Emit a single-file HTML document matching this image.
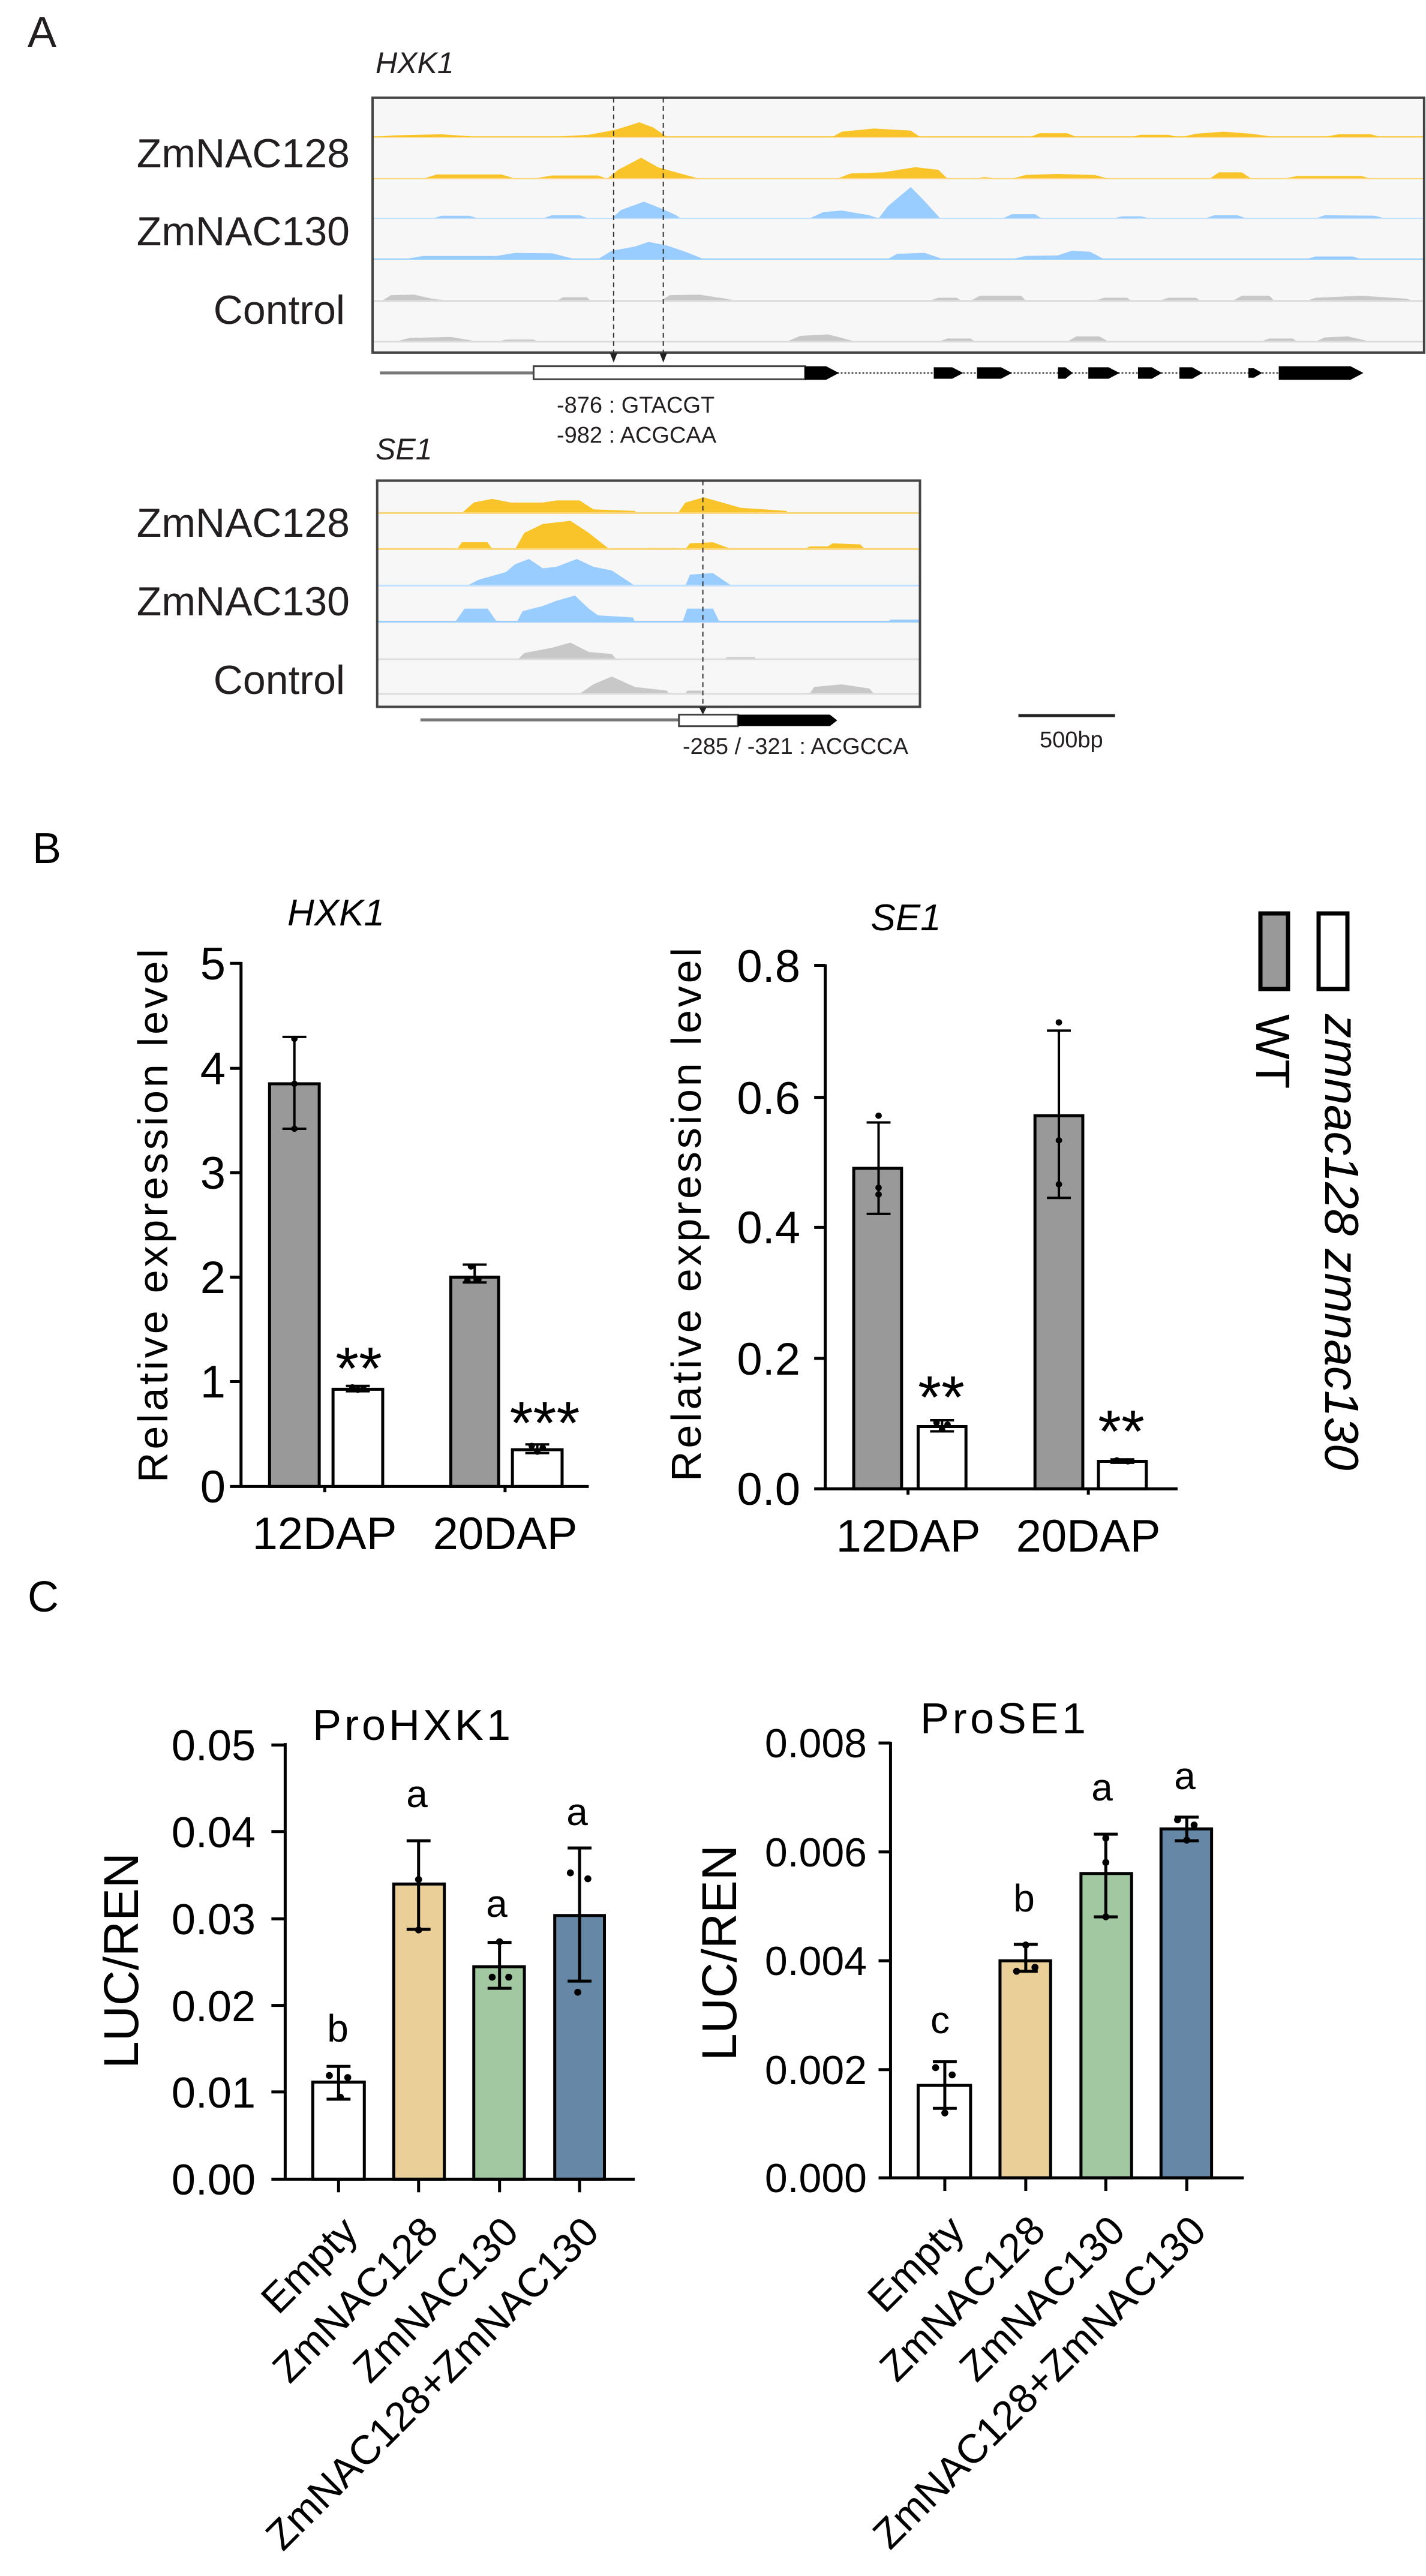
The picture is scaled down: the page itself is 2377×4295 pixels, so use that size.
<!DOCTYPE html>
<html><head><meta charset="utf-8"><style>
html,body{margin:0;padding:0;background:#fff;}
svg{display:block;font-family:"Liberation Sans",Arial,sans-serif;}
.ns{vector-effect:non-scaling-stroke;}
</style></head><body>
<svg width="2377" height="4295" viewBox="0 0 2377 4295" xmlns="http://www.w3.org/2000/svg">
<rect width="2377" height="4295" fill="#fff"/>

<!-- ================= PANEL A ================= -->
<g transform="scale(1.5335,0.871)">
  <!-- HXK1 box -->
  <rect x="405" y="187" width="1143" height="488" fill="#f7f7f7"/>
  <g fill="#F8C42A">
    <path d="M405 262 L430 259 L480 257 L520 262 Z M600 262 L640 258 L670 248 L695 234 L710 244 L725 262 Z M905 262 L915 252 L950 246 L990 250 L1000 262 Z M1120 262 L1130 255 L1160 255 L1170 262 Z M1230 262 L1240 258 L1270 258 L1280 262 Z M1285 262 L1300 256 L1330 252 L1360 256 L1385 262 Z M1440 262 L1455 257 L1490 257 L1500 262 Z"/>
    <path d="M460 342 L475 334 L545 334 L560 342 Z M580 342 L600 336 L650 336 L660 342 Z M660 342 L672 325 L697 302 L715 320 L735 330 L760 342 Z M910 342 L925 332 L960 330 L995 320 L1020 325 L1030 342 Z M1060 342 L1070 339 L1085 342 Z M1100 342 L1115 335 L1150 333 L1190 335 L1205 342 Z M1315 342 L1325 330 L1350 330 L1360 342 Z M1395 342 L1410 337 L1480 337 L1490 342 Z"/>
  </g>
  <g fill="#99CCFF">
    <path d="M470 418 L480 413 L510 413 L520 418 Z M590 418 L600 412 L630 412 L640 418 Z M665 418 L675 402 L700 386 L720 400 L735 412 L740 418 Z M880 418 L895 406 L915 403 L945 412 L955 418 Z M955 418 L965 395 L990 358 L1005 385 L1022 418 Z M1090 418 L1100 410 L1125 410 L1132 418 Z M1210 418 L1220 414 L1240 414 L1250 418 Z M1310 418 L1320 412 L1345 412 L1355 418 Z M1430 418 L1440 412 L1495 413 L1505 418 Z"/>
    <path d="M440 496 L460 490 L540 490 L560 484 L600 485 L625 496 Z M650 496 L665 480 L690 472 L705 463 L725 470 L745 482 L765 496 Z M965 496 L975 486 L1005 484 L1025 496 Z M1100 496 L1115 490 L1150 489 L1165 480 L1185 482 L1200 496 Z M1420 496 L1430 491 L1470 491 L1480 496 Z"/>
  </g>
  <g fill="#C8C8C8">
    <path d="M415 576 L425 565 L450 564 L470 572 L490 576 Z M605 576 L612 569 L638 569 L642 576 Z M718 576 L728 565 L760 564 L790 572 L800 576 Z M1010 576 L1020 570 L1040 570 L1045 576 Z M1055 576 L1065 566 L1110 566 L1115 576 Z M1190 576 L1200 570 L1225 570 L1230 576 Z M1260 576 L1270 570 L1300 570 L1305 576 Z M1340 576 L1350 566 L1380 566 L1385 576 Z M1420 576 L1430 570 L1480 566 L1530 572 L1535 576 Z"/>
    <path d="M430 654 L445 647 L490 645 L520 654 Z M540 654 L550 650 L580 650 L585 654 Z M855 654 L870 643 L900 640 L930 654 Z M1020 654 L1030 648 L1055 648 L1060 654 Z M1160 654 L1170 644 L1195 644 L1205 654 Z M1370 654 L1380 648 L1405 648 L1410 654 Z M1430 654 L1440 646 L1465 644 L1490 654 Z"/>
  </g>
  <g class="ns" stroke-width="2">
    <line class="ns" x1="405" y1="262" x2="1548" y2="262" stroke="#F8C42A" stroke-width="2"/>
    <line class="ns" x1="405" y1="342" x2="1548" y2="342" stroke="#FAD67A" stroke-width="2"/>
    <line class="ns" x1="405" y1="418" x2="1548" y2="418" stroke="#C2E0FF" stroke-width="2"/>
    <line class="ns" x1="405" y1="496" x2="1548" y2="496" stroke="#99CCFF" stroke-width="2"/>
    <line class="ns" x1="405" y1="576" x2="1548" y2="576" stroke="#dcdcdc" stroke-width="3"/>
    <line class="ns" x1="405" y1="654" x2="1548" y2="654" stroke="#dcdcdc" stroke-width="3"/>
  </g>
  <rect class="ns" x="405" y="187" width="1143" height="488" fill="none" stroke="#444" stroke-width="4"/>
  <line class="ns" x1="667" y1="187" x2="667" y2="680" stroke="#333" stroke-width="2" stroke-dasharray="8,6"/>
  <line class="ns" x1="721" y1="187" x2="721" y2="680" stroke="#333" stroke-width="2" stroke-dasharray="8,6"/>
  <path d="M663 676 L671 676 L667 694 Z M717 676 L725 676 L721 694 Z" fill="#222"/>
  <!-- gene model HXK1 -->
  <line class="ns" x1="413" y1="714" x2="580" y2="714" stroke="#777" stroke-width="5"/>
  <rect class="ns" x="580" y="701" width="295" height="25" fill="#fff" stroke="#444" stroke-width="3"/>
  <line class="ns" x1="910" y1="714" x2="1390" y2="714" stroke="#555" stroke-width="3" stroke-dasharray="3,3"/>
  <g fill="#000">
    <path d="M875 701 L898 701 L912 714 L898 727 L875 727 Z"/>
    <path d="M1015 703 L1035 703 L1047 714 L1035 725 L1015 725 Z"/>
    <path d="M1062 703 L1088 703 L1100 714 L1088 725 L1062 725 Z"/>
    <path d="M1150 703 L1158 703 L1166 714 L1158 725 L1150 725 Z"/>
    <path d="M1183 703 L1205 703 L1217 714 L1205 725 L1183 725 Z"/>
    <path d="M1237 703 L1252 703 L1263 714 L1252 725 L1237 725 Z"/>
    <path d="M1282 703 L1296 703 L1307 714 L1296 725 L1282 725 Z"/>
    <path d="M1357 705 L1363 705 L1372 714 L1363 723 L1357 723 Z"/>
    <path d="M1390 701 L1468 701 L1482 714 L1468 727 L1390 727 Z"/>
  </g>

  <!-- SE1 box -->
  <rect x="410" y="920" width="590" height="433" fill="#f7f7f7"/>
  <g fill="#F8C42A">
    <path d="M502 982 L515 962 L535 955 L555 962 L590 962 L605 958 L630 958 L645 975 L690 978 L692 982 Z M737 982 L745 962 L765 952 L785 962 L805 972 L855 978 L856 982 Z"/>
    <path d="M497 1051 L502 1038 L530 1038 L535 1051 Z M560 1051 L570 1020 L590 1003 L620 997 L640 1020 L660 1048 L662 1051 Z M700 1051 L705 1049 L740 1049 Z M745 1051 L750 1040 L775 1038 L795 1051 Z M875 1051 L880 1046 L900 1046 L905 1040 L935 1042 L940 1051 Z"/>
  </g>
  <g fill="#99CCFF">
    <path d="M508 1121 L520 1110 L550 1095 L560 1080 L575 1070 L590 1088 L605 1085 L627 1070 L645 1085 L665 1092 L690 1121 Z M745 1121 L750 1100 L775 1097 L795 1121 Z"/>
    <path d="M495 1190 L505 1165 L530 1165 L540 1190 Z M562 1190 L568 1170 L590 1160 L605 1150 L625 1140 L640 1165 L650 1178 L688 1182 L690 1190 Z M742 1190 L747 1165 L775 1165 L782 1190 Z M965 1190 L968 1186 L1000 1186 L1000 1190 Z"/>
  </g>
  <g fill="#C8C8C8">
    <path d="M563 1262 L570 1250 L600 1240 L620 1230 L640 1248 L665 1252 L670 1262 Z M788 1262 L790 1258 L820 1258 L822 1262 Z"/>
    <path d="M630 1328 L645 1310 L665 1295 L690 1315 L725 1322 L727 1328 Z M745 1328 L747 1322 L762 1322 L764 1328 Z M880 1328 L885 1315 L915 1310 L945 1318 L950 1328 Z"/>
  </g>
  <line class="ns" x1="410" y1="982" x2="1000" y2="982" stroke="#FAD67A" stroke-width="3"/>
  <line class="ns" x1="410" y1="1051" x2="1000" y2="1051" stroke="#FAD67A" stroke-width="3"/>
  <line class="ns" x1="410" y1="1121" x2="1000" y2="1121" stroke="#C2E0FF" stroke-width="3"/>
  <line class="ns" x1="410" y1="1190" x2="1000" y2="1190" stroke="#99CCFF" stroke-width="3"/>
  <line class="ns" x1="410" y1="1262" x2="1000" y2="1262" stroke="#dcdcdc" stroke-width="3"/>
  <line class="ns" x1="410" y1="1328" x2="1000" y2="1328" stroke="#dcdcdc" stroke-width="3"/>
  <rect class="ns" x="410" y="920" width="590" height="433" fill="none" stroke="#444" stroke-width="4"/>
  <line class="ns" x1="764" y1="920" x2="764" y2="1358" stroke="#333" stroke-width="2" stroke-dasharray="8,6"/>
  <path d="M760 1354 L768 1354 L764 1368 Z" fill="#222"/>
  <line class="ns" x1="457" y1="1378" x2="738" y2="1378" stroke="#777" stroke-width="5"/>
  <rect class="ns" x="738" y="1368" width="64" height="22" fill="#fff" stroke="#444" stroke-width="3"/>
  <path d="M802 1368 L902 1368 L910 1379 L902 1390 L802 1390 Z" fill="#000"/>
  <line class="ns" x1="1107" y1="1370" x2="1212" y2="1370" stroke="#222" stroke-width="5"/>
</g>
<g fill="#231f20">
  <text x="46" y="78" font-size="72">A</text>
  <text x="626" y="122" font-size="50" font-style="italic">HXK1</text>
  <text x="583" y="279" font-size="68" text-anchor="end">ZmNAC128</text>
  <text x="583" y="409" font-size="68" text-anchor="end">ZmNAC130</text>
  <text x="575" y="540" font-size="68" text-anchor="end">Control</text>
  <text x="928" y="688" font-size="38">-876 : GTACGT</text>
  <text x="928" y="738" font-size="38">-982 : ACGCAA</text>
  <text x="626" y="766" font-size="50" font-style="italic">SE1</text>
  <text x="583" y="895" font-size="68" text-anchor="end">ZmNAC128</text>
  <text x="583" y="1026" font-size="68" text-anchor="end">ZmNAC130</text>
  <text x="575" y="1157" font-size="68" text-anchor="end">Control</text>
  <text x="1138" y="1257" font-size="38">-285 / -321 : ACGCCA</text>
  <text x="1733" y="1246" font-size="38">500bp</text>
</g>

<!-- ================= PANEL B ================= -->
<g transform="translate(0,1350) scale(1.5335,0.806)">
  <g stroke="#000" class="ns">
    <rect class="ns" x="293" y="567" width="54" height="833" fill="#999" stroke="#000" stroke-width="5"/>
    <rect class="ns" x="362" y="1199" width="54" height="201" fill="#fff" stroke="#000" stroke-width="5"/>
    <rect class="ns" x="490" y="967" width="52" height="433" fill="#999" stroke="#000" stroke-width="5"/>
    <rect class="ns" x="557" y="1324" width="54" height="76" fill="#fff" stroke="#000" stroke-width="5"/>
    <rect class="ns" x="928" y="742" width="52" height="663" fill="#999" stroke="#000" stroke-width="5"/>
    <rect class="ns" x="998" y="1276" width="52" height="129" fill="#fff" stroke="#000" stroke-width="5"/>
    <rect class="ns" x="1125" y="633" width="52" height="772" fill="#999" stroke="#000" stroke-width="5"/>
    <rect class="ns" x="1194" y="1348" width="52" height="57" fill="#fff" stroke="#000" stroke-width="5"/>
  </g>
  <g stroke="#000" fill="none">
    <path class="ns" stroke-width="5" d="M262 315 L262 1400 M250 1400 L640 1400 M353 1400 L353 1412 M549 1400 L549 1412 M250 318 L262 318 M250 535 L262 535 M250 751 L262 751 M250 967 L262 967 M250 1183 L262 1183"/>
    <path class="ns" stroke-width="5" d="M897 320 L897 1405 M885 1405 L1280 1405 M987 1405 L987 1417 M1183 1405 L1183 1417 M885 322 L897 322 M885 595 L897 595 M885 864 L897 864 M885 1135 L897 1135"/>
    <path class="ns" stroke-width="4" d="M320 470 L320 660 M307 470 L333 470 M307 660 L333 660 M516 941 L516 978 M503 941 L529 941 M503 978 L529 978 M389 1192 L389 1203 M376 1192 L402 1192 M376 1203 L402 1203 M584 1313 L584 1331 M571 1313 L597 1313 M571 1331 L597 1331"/>
    <path class="ns" stroke-width="4" d="M955 647 L955 836 M942 647 L968 647 M942 836 L968 836 M1151 457 L1151 803 M1138 457 L1164 457 M1138 803 L1164 803 M1024 1263 L1024 1286 M1011 1263 L1037 1263 M1011 1286 L1037 1286 M1220 1344 L1220 1351 M1207 1344 L1233 1344 M1207 1351 L1233 1351"/>
  </g>
  <g fill="#000">
    <ellipse cx="320" cy="474" rx="3.5" ry="6.5"/><ellipse cx="320" cy="567" rx="3.5" ry="6.5"/><ellipse cx="320" cy="660" rx="3.5" ry="6.5"/>
    <ellipse cx="512" cy="945" rx="3.5" ry="6.5"/><ellipse cx="520" cy="972" rx="3.5" ry="6.5"/><ellipse cx="508" cy="974" rx="3.5" ry="6.5"/>
    <ellipse cx="383" cy="1195" rx="3.5" ry="6.5"/><ellipse cx="395" cy="1198" rx="3.5" ry="6.5"/><ellipse cx="389" cy="1200" rx="3.5" ry="6.5"/>
    <ellipse cx="578" cy="1316" rx="3.5" ry="6.5"/><ellipse cx="590" cy="1320" rx="3.5" ry="6.5"/><ellipse cx="584" cy="1328" rx="3.5" ry="6.5"/>
    <ellipse cx="955" cy="633" rx="3.5" ry="6.5"/><ellipse cx="955" cy="782" rx="3.5" ry="6.5"/><ellipse cx="955" cy="796" rx="3.5" ry="6.5"/>
    <ellipse cx="1151" cy="440" rx="3.5" ry="6.5"/><ellipse cx="1151" cy="684" rx="3.5" ry="6.5"/><ellipse cx="1151" cy="775" rx="3.5" ry="6.5"/>
    <ellipse cx="1018" cy="1268" rx="3.5" ry="6.5"/><ellipse cx="1030" cy="1272" rx="3.5" ry="6.5"/><ellipse cx="1024" cy="1282" rx="3.5" ry="6.5"/>
    <ellipse cx="1214" cy="1346" rx="3.5" ry="6.5"/><ellipse cx="1226" cy="1348" rx="3.5" ry="6.5"/>
  </g>
</g>
<g fill="#000">
  <text x="54" y="1439" font-size="72">B</text>
  <text x="560" y="1543" font-size="62" font-style="italic" text-anchor="middle">HXK1</text>
  <text x="1510" y="1551" font-size="62" font-style="italic" text-anchor="middle">SE1</text>
  <g font-size="76" text-anchor="end">
    <text x="376" y="1633">5</text><text x="376" y="1808">4</text><text x="376" y="1982">3</text>
    <text x="376" y="2156">2</text><text x="376" y="2330">1</text><text x="376" y="2505">0</text>
    <text x="1334" y="1637">0.8</text><text x="1334" y="1857">0.6</text><text x="1334" y="2073">0.4</text>
    <text x="1334" y="2292">0.2</text><text x="1334" y="2509">0.0</text>
  </g>
  <text transform="translate(279,2027) rotate(-90)" font-size="70" text-anchor="middle" textLength="890">Relative expression level</text>
  <text transform="translate(1168,2025) rotate(-90)" font-size="70" text-anchor="middle" textLength="890">Relative expression level</text>
  <g font-size="76" text-anchor="middle">
    <text x="541" y="2583">12DAP</text><text x="842" y="2583">20DAP</text>
    <text x="1514" y="2587">12DAP</text><text x="1814" y="2587">20DAP</text>
  </g>
  <g font-size="100" text-anchor="middle">
    <text x="598" y="2316">**</text><text x="908" y="2407">***</text>
    <text x="1569" y="2364">**</text><text x="1869" y="2421">**</text>
  </g>
  <!-- legend -->
  <rect x="2101" y="1523" width="46" height="126" fill="#999" stroke="#000" stroke-width="7"/>
  <rect x="2198" y="1523" width="48" height="126" fill="#fff" stroke="#000" stroke-width="7"/>
  <text transform="translate(2094,1691) rotate(90)" font-size="80">WT</text>
  <text transform="translate(2209,1691) rotate(90)" font-size="80" font-style="italic">zmnac128 zmnac130</text>
</g>

<!-- ================= PANEL C ================= -->
<g transform="translate(0,2600) scale(1.5335,1.0935)">
  <rect class="ns" x="340" y="797" width="56" height="148" fill="#fff" stroke="#000" stroke-width="5"/>
  <rect class="ns" x="428" y="495" width="55" height="450" fill="#EBCF98" stroke="#000" stroke-width="5"/>
  <rect class="ns" x="515" y="621" width="55" height="324" fill="#A2C8A2" stroke="#000" stroke-width="5"/>
  <rect class="ns" x="603" y="543" width="54" height="402" fill="#6787A6" stroke="#000" stroke-width="5"/>
  <rect class="ns" x="998" y="802" width="57" height="141" fill="#fff" stroke="#000" stroke-width="5"/>
  <rect class="ns" x="1087" y="612" width="55" height="331" fill="#EBCF98" stroke="#000" stroke-width="5"/>
  <rect class="ns" x="1175" y="479" width="55" height="464" fill="#A2C8A2" stroke="#000" stroke-width="5"/>
  <rect class="ns" x="1262" y="411" width="55" height="532" fill="#6787A6" stroke="#000" stroke-width="5"/>
  <g stroke="#000" fill="none">
    <path class="ns" stroke-width="5" d="M310 280 L310 945 M295 945 L690 945 M368 945 L368 965 M455 945 L455 965 M543 945 L543 965 M630 945 L630 965 M295 283 L310 283 M295 415 L310 415 M295 548 L310 548 M295 680 L310 680 M295 812 L310 812"/>
    <path class="ns" stroke-width="5" d="M968 278 L968 943 M955 943 L1352 943 M1027 943 L1027 963 M1115 943 L1115 963 M1202 943 L1202 963 M1290 943 L1290 963 M955 280 L968 280 M955 446 L968 446 M955 612 L968 612 M955 778 L968 778"/>
    <path class="ns" stroke-width="5" d="M368 773 L368 823 M355 773 L381 773 M355 823 L381 823 M455 429 L455 564 M442 429 L468 429 M442 564 L468 564 M543 584 L543 654 M530 584 L556 584 M530 654 L556 654 M630 440 L630 643 M617 440 L643 440 M617 643 L643 643"/>
    <path class="ns" stroke-width="5" d="M1027 766 L1027 837 M1014 766 L1040 766 M1014 837 L1040 837 M1115 587 L1115 628 M1102 587 L1128 587 M1102 628 L1128 628 M1202 419 L1202 545 M1189 419 L1215 419 M1189 545 L1215 545 M1290 393 L1290 429 M1277 393 L1303 393 M1277 429 L1303 429"/>
  </g>
  <g fill="#000">
    <ellipse cx="358" cy="787" rx="3.8" ry="5.3"/><ellipse cx="378" cy="790" rx="3.8" ry="5.3"/><ellipse cx="370" cy="820" rx="3.8" ry="5.3"/>
    <ellipse cx="455" cy="488" rx="3.8" ry="5.3"/><ellipse cx="455" cy="565" rx="3.8" ry="5.3"/>
    <ellipse cx="535" cy="637" rx="3.8" ry="5.3"/><ellipse cx="553" cy="637" rx="3.8" ry="5.3"/><ellipse cx="543" cy="583" rx="3.8" ry="5.3"/>
    <ellipse cx="620" cy="478" rx="3.8" ry="5.3"/><ellipse cx="639" cy="487" rx="3.8" ry="5.3"/><ellipse cx="628" cy="660" rx="3.8" ry="5.3"/>
    <ellipse cx="1017" cy="775" rx="3.8" ry="5.3"/><ellipse cx="1035" cy="786" rx="3.8" ry="5.3"/><ellipse cx="1027" cy="844" rx="3.8" ry="5.3"/>
    <ellipse cx="1105" cy="628" rx="3.8" ry="5.3"/><ellipse cx="1125" cy="622" rx="3.8" ry="5.3"/><ellipse cx="1115" cy="588" rx="3.8" ry="5.3"/>
    <ellipse cx="1202" cy="425" rx="3.8" ry="5.3"/><ellipse cx="1202" cy="462" rx="3.8" ry="5.3"/><ellipse cx="1202" cy="545" rx="3.8" ry="5.3"/>
    <ellipse cx="1280" cy="397" rx="3.8" ry="5.3"/><ellipse cx="1298" cy="405" rx="3.8" ry="5.3"/><ellipse cx="1290" cy="428" rx="3.8" ry="5.3"/>
  </g>
</g>
<g fill="#000">
  <text x="46" y="2687" font-size="72">C</text>
  <text x="521" y="2901" font-size="72" textLength="330">ProHXK1</text>
  <text x="1534" y="2890" font-size="72" textLength="276">ProSE1</text>
  <g font-size="72" text-anchor="end">
    <text x="426" y="2935">0.05</text><text x="426" y="3080">0.04</text><text x="426" y="3225">0.03</text>
    <text x="426" y="3370">0.02</text><text x="426" y="3514">0.01</text><text x="426" y="3659">0.00</text>
  </g>
  <g font-size="68" text-anchor="end">
    <text x="1445" y="2930">0.008</text><text x="1445" y="3112">0.006</text><text x="1445" y="3293">0.004</text>
    <text x="1445" y="3475">0.002</text><text x="1445" y="3655">0.000</text>
  </g>
  <text transform="translate(230,3269) rotate(-90)" font-size="82" text-anchor="middle">LUC/REN</text>
  <text transform="translate(1227,3256) rotate(-90)" font-size="82" text-anchor="middle">LUC/REN</text>
  <g font-size="64" text-anchor="middle">
    <text x="563" y="3404">b</text><text x="695" y="3013">a</text><text x="828" y="3196">a</text><text x="962" y="3043">a</text>
    <text x="1567" y="3390">c</text><text x="1707" y="3187">b</text><text x="1837" y="3002">a</text><text x="1975" y="2983">a</text>
  </g>
  <g font-size="68" text-anchor="end">
    <text transform="translate(600,3725) rotate(-45)">Empty</text>
    <text transform="translate(734,3725) rotate(-45)">ZmNAC128</text>
    <text transform="translate(868,3725) rotate(-45)">ZmNAC130</text>
    <text transform="translate(1002,3725) rotate(-45)">ZmNAC128+ZmNAC130</text>
    <text transform="translate(1611,3723) rotate(-45)">Empty</text>
    <text transform="translate(1746,3723) rotate(-45)">ZmNAC128</text>
    <text transform="translate(1879,3723) rotate(-45)">ZmNAC130</text>
    <text transform="translate(2014,3723) rotate(-45)">ZmNAC128+ZmNAC130</text>
  </g>
</g>
</svg>
</body></html>
